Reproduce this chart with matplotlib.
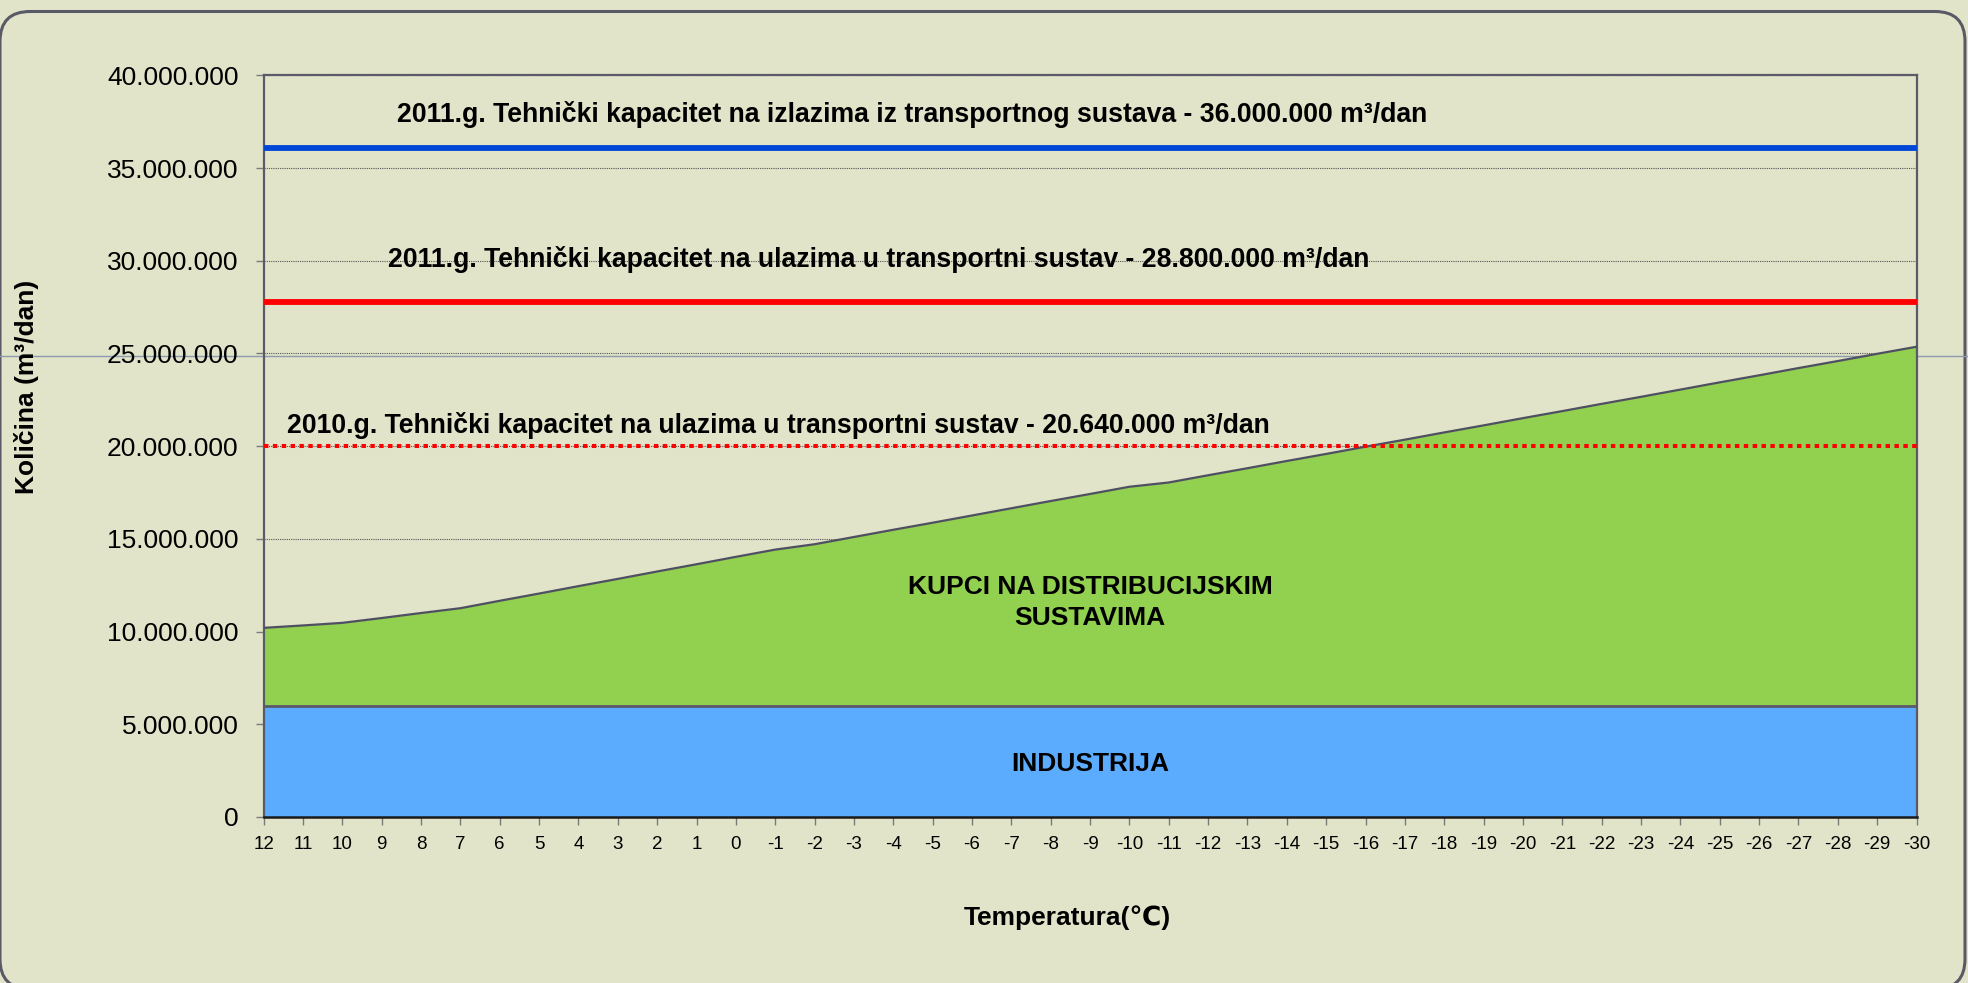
import numpy as np
import matplotlib
matplotlib.use('Agg')
import matplotlib.pyplot as plt
from matplotlib.patches import FancyBboxPatch
from matplotlib.lines import Line2D
from matplotlib.ticker import FuncFormatter

# temperatura (°C) and daily demand (m3/dan)
temperatura = [12, 11, 10, 9, 8, 7, 6, 5, 4, 3, 2, 1, 0, -1, -2, -3, -4, -5, -6, -7, -8,
               -9, -10, -11, -12, -13, -14, -15, -16, -17, -18, -19, -20, -21, -22, -23,
               -24, -25, -26, -27, -28, -29, -30]
industrija = [6000000] * len(temperatura)
ukupno = [10200000, 10330000, 10470000, 10730000, 11000000, 11260000, 11660000, 12050000,
          12450000, 12840000, 13240000, 13630000, 14030000, 14420000, 14710000, 15100000,
          15490000, 15870000, 16260000, 16650000, 17040000, 17420000, 17810000, 18040000,
          18430000, 18810000, 19200000, 19580000, 19970000, 20350000, 20740000, 21120000,
          21510000, 21890000, 22280000, 22660000, 23050000, 23440000, 23820000, 24210000,
          24590000, 24980000, 25360000]

kap_izlaz_2011 = 36100000
kap_ulaz_2011 = 27800000
kap_ulaz_2010 = 20000000

txt_izlaz_2011 = '2011.g. Tehnički kapacitet na izlazima iz transportnog sustava - 36.000.000 m³/dan'
txt_ulaz_2011 = '2011.g. Tehnički kapacitet na ulazima u transportni sustav - 28.800.000 m³/dan'
txt_ulaz_2010 = '2010.g. Tehnički kapacitet na ulazima u transportni sustav - 20.640.000 m³/dan'

plt.rcParams['font.family'] = ['Liberation Sans', 'DejaVu Sans']
bg = '#E1E4C9'
W, H = 1968, 983

fig = plt.figure(figsize=(W / 100, H / 100), dpi=100, facecolor=bg)

# slide frame and the thin guide line of the slide
frame = FancyBboxPatch((0, -6), W - 3, H - 5.5, boxstyle='round,pad=0,rounding_size=30',
                       transform=None, facecolor='none', edgecolor='#5A5A66', lw=2.2, zorder=-1)
fig.add_artist(frame)
fig.add_artist(Line2D([0, 1], [1 - 356 / H] * 2, transform=fig.transFigure,
                      color='#8E9BAE', lw=1.0, zorder=-1))

ax = fig.add_axes([263.6 / W, 1 - 817 / H, (1916.5 - 263.6) / W, (817 - 75.3) / H])
ax.set_facecolor('none')

x = np.arange(len(temperatura))
ax.fill_between(x, 0, industrija, color='#5BABFF', lw=0, zorder=2)
ax.fill_between(x, industrija, ukupno, color='#92D050', lw=0, zorder=2)
ax.plot(x, industrija, color='#5A5A6A', lw=2.0, zorder=3)
ax.plot(x, ukupno, color='#4F4F62', lw=1.6, zorder=3)

ax.axhline(kap_izlaz_2011, color='#0047D8', lw=4.2, zorder=4)
ax.axhline(kap_ulaz_2011, color='#FF0000', lw=4.2, zorder=4)
ax.axhline(kap_ulaz_2010, color='#FF0000', lw=2.9, ls=(0, (1.1, 1.1)), zorder=4)

fs = 19.15
ax.text(3.38, 37.48e6, txt_izlaz_2011, fontsize=fs, fontweight='bold', va='baseline', ha='left')
ax.text(3.17, 29.67e6, txt_ulaz_2011, fontsize=fs, fontweight='bold', va='baseline', ha='left')
ax.text(0.6, 20.73e6, txt_ulaz_2010, fontsize=fs, fontweight='bold', va='baseline', ha='left')
ax.text(21, 12.0e6, 'KUPCI NA DISTRIBUCIJSKIM', fontsize=19, fontweight='bold',
        ha='center', va='baseline', zorder=5)
ax.text(21, 10.38e6, 'SUSTAVIMA', fontsize=19, fontweight='bold',
        ha='center', va='baseline', zorder=5)
ax.text(21, 2.48e6, 'INDUSTRIJA', fontsize=19, fontweight='bold',
        ha='center', va='baseline', zorder=5)

ax.set_xlim(0, len(temperatura) - 1)
ax.set_ylim(0, 40000000)
ax.set_xticks(x)
ax.set_xticklabels([str(t) for t in temperatura])
ax.set_yticks(np.arange(0, 40000001, 5000000))
ax.yaxis.set_major_formatter(FuncFormatter(lambda v, p: f'{int(v):,}'.replace(',', '.')))

ax.yaxis.grid(True, linestyle=(0, (1, 1)), color='#555555', lw=0.8)
ax.set_axisbelow(True)

ax.tick_params(axis='x', labelsize=13.5, length=6, width=1, color='#7A7A7A', pad=8)
ax.tick_params(axis='y', labelsize=19, length=6, width=1, color='#7A7A7A', pad=12)

for side in ['left', 'top', 'right']:
    ax.spines[side].set_color('#5A5A68')
    ax.spines[side].set_linewidth(1.6)
ax.spines['bottom'].set_color('#1A1A1A')
ax.spines['bottom'].set_linewidth(1.8)
ax.spines['bottom'].set_zorder(6)

fig.text(27 / W, 1 - 387 / H, 'Količina (m³/dan)', rotation=90, fontsize=19,
         fontweight='bold', ha='center', va='center')
fig.text(1067 / W, 1 - 924.5 / H, 'Temperatura(℃)', fontsize=19, fontweight='bold',
         ha='center', va='baseline')

fig.savefig('out.png', dpi=100, facecolor=bg)
